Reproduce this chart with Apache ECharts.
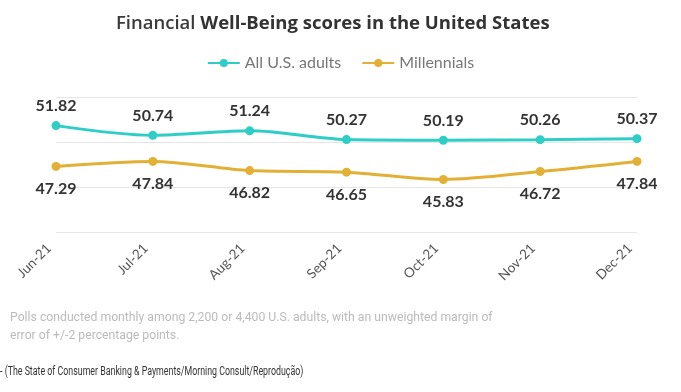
<!DOCTYPE html>
<html><head><meta charset="utf-8">
<script src="https://cdn.jsdelivr.net/npm/echarts@6/dist/echarts.min.js"></script>
<style>html,body{margin:0;padding:0;background:#fff}#c{width:681px;height:392px}</style>
</head><body><div id="c"></div>
<script>
const categories = ['Jun-21','Jul-21','Aug-21','Sep-21','Oct-21','Nov-21','Dec-21'];
const allAdults = [51.82, 50.74, 51.24, 50.27, 50.19, 50.26, 50.37];
const millennials = [47.29, 47.84, 46.82, 46.65, 45.83, 46.72, 47.84];
const seriesNames = ['All U.S. adults', 'Millennials'];

const chart = echarts.init(document.getElementById('c'));
const FONT = 'Lato, "Open Sans", sans-serif';
const TFONT = '"Open Sans", Lato, sans-serif';
chart.setOption({
  animation: false,
  textStyle: { fontFamily: FONT },
  title: {
    text: '{a|Financial }{b|Well-Being scores in the United States}',
    left: 111, top: 9,
    textStyle: {
      rich: {
        a: { fontSize: 18.5, fontWeight: 600, color: '#3a3a3a', fontFamily: TFONT },
        b: { fontSize: 18.5, fontWeight: 'bold', color: '#333', fontFamily: TFONT }
      }
    }
  },
  legend: {
    top: 50, left: 'center', itemWidth: 32, itemHeight: 10, itemGap: 20,
    textStyle: { fontSize: 16, color: '#777', fontFamily: FONT },
    data: seriesNames
  },
  grid: { left: 56, right: 44, top: 97, bottom: 160, containLabel: false },
  xAxis: {
    type: 'category', data: categories, boundaryGap: false,
    axisLine: { show: false }, axisTick: { show: false },
    axisLabel: {
      rotate: 45, fontSize: 13.5, color: '#555', margin: 7, fontFamily: FONT,
      formatter: v => v + '\u2003'
    }
  },
  yAxis: {
    type: 'value', min: 40, max: 55, interval: 5,
    axisLabel: { show: false },
    splitLine: { lineStyle: { color: '#e6e6e6', width: 1 } }
  },
  series: [
    {
      name: seriesNames[0], type: 'line', data: allAdults, smooth: 0.3,
      symbol: 'circle', symbolSize: 9,
      lineStyle: { width: 3, color: '#2ecdc6' }, itemStyle: { color: '#2ecdc6' },
      label: { show: true, position: 'top', distance: 7, fontSize: 16, fontWeight: 'bold', color: '#333', fontFamily: FONT }
    },
    {
      name: seriesNames[1], type: 'line', data: millennials, smooth: 0.3,
      symbol: 'circle', symbolSize: 9,
      lineStyle: { width: 3, color: '#e2b035' }, itemStyle: { color: '#e2b035' },
      label: { show: true, position: 'bottom', distance: 10, fontSize: 16, fontWeight: 'bold', color: '#333', fontFamily: FONT }
    }
  ],
  graphic: [
    { type: 'text', x: 10, y: 309, scaleX: 0.94, style: { text: 'Polls conducted monthly among 2,200 or 4,400 U.S. adults, with an unweighted margin of\nerror of +/-2 percentage points.', fontSize: 13, lineHeight: 18, fill: '#bbb', fontFamily: 'Roboto, sans-serif' } },
    { type: 'text', x: 0, y: 366, scaleX: 0.735, style: { text: '- (The State of Consumer Banking & Payments/Morning Consult/Reprodução)', fontSize: 12, fill: '#333', fontFamily: 'Roboto, sans-serif' } }
  ]
});
</script></body></html>
